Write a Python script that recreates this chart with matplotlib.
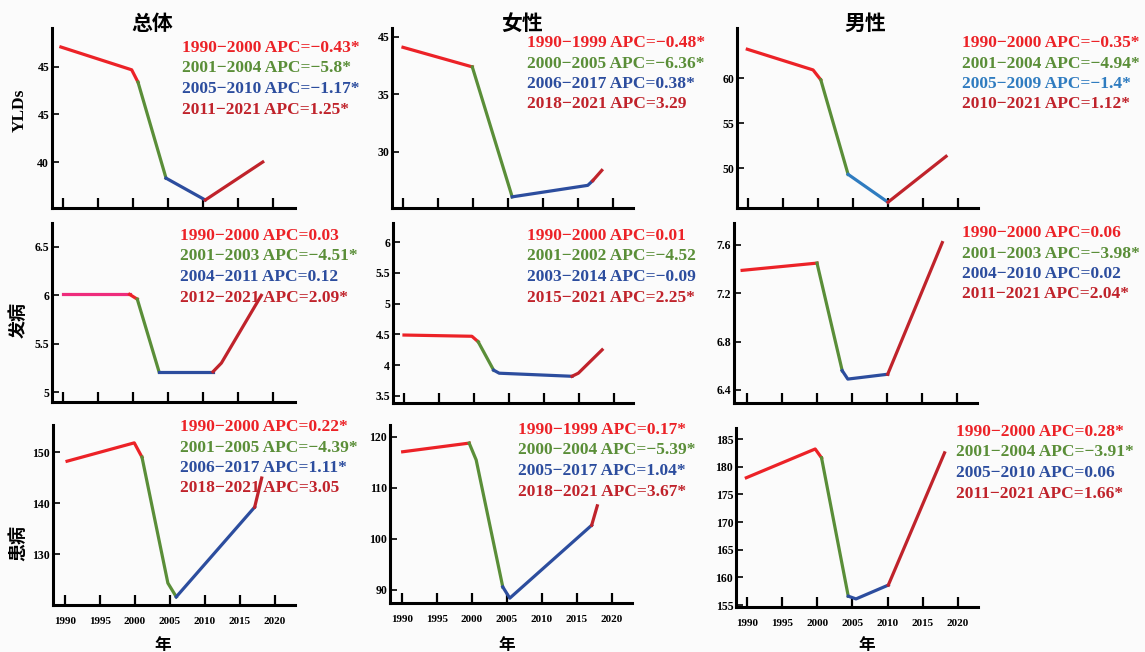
import matplotlib.pyplot as plt

plt.rcParams['font.family'] = ['Liberation Serif', 'Noto Sans CJK SC', 'DejaVu Sans']

W, H = 1145, 652

RED = '#ec2227'
GREEN = '#5a8e38'
BLUE = '#2c4d9e'
CRIMSON = '#c0232b'
PINK = '#ee2c7c'
LIGHTBLUE = '#2f7cc0'

col_titles = ['总体', '女性', '男性']
row_titles = ['YLDs', '发病', '患病']
x_ticks = [1990, 1995, 2000, 2005, 2010, 2015, 2020]

# ---- YLDs ----
yld_total_yr = [1989.7, 1999.8, 2000.7, 2004.7, 2010.3, 2018.5]
yld_total_val = [52.1, 49.7, 48.4, 38.3, 36.0, 40.0]
yld_total_cut = [0, 2, 3, 4, 5]
yld_total_col = [RED, GREEN, BLUE, CRIMSON]
yld_total_apc = ['1990−2000 APC=−0.43*', '2001−2004 APC=−5.8*',
                 '2005−2010 APC=−1.17*', '2011−2021 APC=1.25*']
yld_total_ticks = [50, 45, 40]
yld_total_tlab = ['45', '45', '40']

yld_female_yr = [1990.0, 1999.9, 2005.6, 2016.4, 2017.1, 2018.4]
yld_female_val = [39.1, 37.4, 26.1, 27.1, 27.5, 28.4]
yld_female_cut = [0, 1, 2, 4, 5]
yld_female_col = [RED, GREEN, BLUE, CRIMSON]
yld_female_apc = ['1990−1999 APC=−0.48*', '2000−2005 APC=−6.36*',
                  '2006−2017 APC=0.38*', '2018−2021 APC=3.29']
yld_female_ticks = [40, 35, 30]
yld_female_tlab = ['45', '35', '30']

yld_male_yr = [1989.9, 1999.3, 2000.4, 2004.3, 2010.0, 2018.3]
yld_male_val = [63.2, 60.9, 59.8, 49.3, 46.2, 51.3]
yld_male_cut = [0, 2, 3, 4, 5]
yld_male_col = [RED, GREEN, LIGHTBLUE, CRIMSON]
yld_male_apc = ['1990−2000 APC=−0.35*', '2001−2004 APC=−4.94*',
                '2005−2009 APC=−1.4*', '2010−2021 APC=1.12*']
yld_male_ticks = [60, 55, 50]
yld_male_tlab = ['60', '55', '50']

# ---- 发病 ----
inc_total_yr = [1990.0, 1999.5, 2000.6, 2003.7, 2011.4, 2012.6, 2018.3]
inc_total_val = [6.01, 6.01, 5.96, 5.21, 5.21, 5.30, 6.0]
inc_total_cut = [0, 1, 2, 3, 4, 6]
inc_total_col = [PINK, RED, GREEN, BLUE, CRIMSON]
inc_total_apc = ['1990−2000 APC=0.03', '2001−2003 APC=−4.51*',
                 '2004−2011 APC=0.12', '2012−2021 APC=2.09*']
inc_total_ticks = [6.5, 6, 5.5, 5]
inc_total_tlab = ['6.5', '6', '5.5', '5']

inc_female_yr = [1990.0, 1999.7, 2000.6, 2002.8, 2003.6, 2014.0, 2014.9, 2018.3]
inc_female_val = [4.49, 4.47, 4.38, 3.92, 3.87, 3.82, 3.87, 4.25]
inc_female_cut = [0, 2, 3, 5, 7]
inc_female_col = [RED, GREEN, BLUE, CRIMSON]
inc_female_apc = ['1990−2000 APC=0.01', '2001−2002 APC=−4.52',
                  '2003−2014 APC=−0.09', '2015−2021 APC=2.25*']
inc_female_ticks = [6, 5.5, 5, 4.5, 4, 3.5]
inc_female_tlab = ['6', '5.5', '5', '4.5', '4', '3.5']

inc_male_yr = [1989.3, 2000.0, 2003.6, 2004.4, 2010.1, 2017.9]
inc_male_val = [7.39, 7.45, 6.56, 6.49, 6.53, 7.62]
inc_male_cut = [0, 1, 2, 4, 5]
inc_male_col = [RED, GREEN, BLUE, CRIMSON]
inc_male_apc = ['1990−2000 APC=0.06', '2001−2003 APC=−3.98*',
                '2004−2010 APC=0.02', '2011−2021 APC=2.04*']
inc_male_ticks = [7.6, 7.2, 6.8, 6.4]
inc_male_tlab = ['7.6', '7.2', '6.8', '6.4']

# ---- 患病 ----
prev_total_yr = [1990.3, 1999.9, 2001.0, 2004.7, 2005.9, 2017.1, 2018.1]
prev_total_val = [148.2, 151.8, 149.0, 124.3, 121.6, 139.2, 144.9]
prev_total_cut = [0, 2, 4, 5, 6]
prev_total_col = [RED, GREEN, BLUE, CRIMSON]
prev_total_apc = ['1990−2000 APC=0.22*', '2001−2005 APC=−4.39*',
                  '2006−2017 APC=1.11*', '2018−2021 APC=3.05']
prev_total_ticks = [150, 140, 130]
prev_total_tlab = ['150', '140', '130']

prev_female_yr = [1990.1, 1999.6, 2000.6, 2004.4, 2005.4, 2017.1, 2017.9]
prev_female_val = [117.1, 118.8, 115.5, 90.6, 88.4, 102.7, 106.5]
prev_female_cut = [0, 1, 3, 5, 6]
prev_female_col = [RED, GREEN, BLUE, CRIMSON]
prev_female_apc = ['1990−1999 APC=0.17*', '2000−2004 APC=−5.39*',
                   '2005−2017 APC=1.04*', '2018−2021 APC=3.67*']
prev_female_ticks = [120, 110, 100, 90]
prev_female_tlab = ['120', '110', '100', '90']

prev_male_yr = [1989.9, 1999.7, 2000.6, 2004.4, 2005.5, 2010.1, 2018.1]
prev_male_val = [178.0, 183.2, 181.6, 156.6, 156.1, 158.6, 182.5]
prev_male_cut = [0, 2, 3, 5, 6]
prev_male_col = [RED, GREEN, BLUE, CRIMSON]
prev_male_apc = ['1990−2000 APC=0.28*', '2001−2004 APC=−3.91*',
                 '2005−2010 APC=0.06', '2011−2021 APC=1.66*']
prev_male_ticks = [185, 180, 175, 170, 165, 160, 155]
prev_male_tlab = ['185', '180', '175', '170', '165', '160', '155']

fig = plt.figure(figsize=(W / 100, H / 100), dpi=100)
fig.patch.set_facecolor('#fbfbfb')


def panel(rect, xlim, ylim, years, vals, cuts, colors, yticks, ylabels,
          apc, text_xy, show_x):
    l, r, t, b = rect
    ax = fig.add_axes([l / W, 1 - b / H, (r - l) / W, (b - t) / H])
    ax.patch.set_alpha(0)
    for i0, i1, c in zip(cuts[:-1], cuts[1:], colors):
        ax.plot(years[i0:i1 + 1], vals[i0:i1 + 1], color=c, lw=2.3,
                solid_joinstyle='round')
    ax.set_xlim(*xlim)
    ax.set_ylim(*ylim)
    for s in ['top', 'right']:
        ax.spines[s].set_visible(False)
    for s in ['left', 'bottom']:
        ax.spines[s].set_linewidth(2.2)
    ax.set_xticks(x_ticks)
    ax.tick_params(axis='x', direction='in', length=7, width=1.6, pad=9)
    if show_x:
        ax.set_xticklabels([str(v) for v in x_ticks], fontsize=8,
                           fontweight='bold')
    else:
        ax.set_xticklabels([])
    ax.set_yticks(yticks)
    ax.set_yticklabels(ylabels, fontsize=8.5, fontweight='bold')
    ax.tick_params(axis='y', direction='in', length=5, width=1.2, pad=2)
    tx, ty = text_xy
    for k, (s, c) in enumerate(zip(apc, colors[-4:])):
        fig.text(tx / W, 1 - (ty + k * 20.5) / H, s, color=c, fontsize=12.5,
                 fontweight='bold', ha='left', va='center')
    return ax


# row 1: YLDs
panel((52, 295, 28, 208), (1988.43, 2023.1), (35.16, 54.1),
      yld_total_yr, yld_total_val, yld_total_cut, yld_total_col,
      yld_total_ticks, yld_total_tlab, yld_total_apc, (182, 48), False)
panel((392, 633, 28, 208), (1988.43, 2022.86), (25.13, 40.78),
      yld_female_yr, yld_female_val, yld_female_cut, yld_female_col,
      yld_female_ticks, yld_female_tlab, yld_female_apc, (527, 43), False)
panel((737, 978, 28, 208), (1988.43, 2022.86), (45.56, 65.56),
      yld_male_yr, yld_male_val, yld_male_cut, yld_male_col,
      yld_male_ticks, yld_male_tlab, yld_male_apc, (962, 43), False)

# row 2: 发病
panel((52, 295, 223, 402), (1988.43, 2023.1), (4.897, 6.748),
      inc_total_yr, inc_total_val, inc_total_cut, inc_total_col,
      inc_total_ticks, inc_total_tlab, inc_total_apc, (180, 236), False)
panel((393, 633, 223, 403), (1988.43, 2022.71), (3.386, 6.31),
      inc_female_yr, inc_female_val, inc_female_cut, inc_female_col,
      inc_female_ticks, inc_female_tlab, inc_female_apc, (527, 236), False)
panel((734, 977, 223, 403), (1988.14, 2022.86), (6.292, 7.782),
      inc_male_yr, inc_male_val, inc_male_cut, inc_male_col,
      inc_male_ticks, inc_male_tlab, inc_male_apc, (962, 233), False)

# row 3: 患病
panel((53, 295, 425, 605), (1988.29, 2022.86), (120.0, 155.3),
      prev_total_yr, prev_total_val, prev_total_cut, prev_total_col,
      prev_total_ticks, prev_total_tlab, prev_total_apc, (180, 427), True)
panel((390, 632, 425, 603), (1988.29, 2022.86), (87.45, 122.35),
      prev_female_yr, prev_female_val, prev_female_cut, prev_female_col,
      prev_female_ticks, prev_female_tlab, prev_female_apc, (518, 430), True)
panel((736, 978, 428, 607), (1988.43, 2022.86), (154.64, 186.99),
      prev_male_yr, prev_male_val, prev_male_cut, prev_male_col,
      prev_male_ticks, prev_male_tlab, prev_male_apc, (956, 432), True)

cjk = ['Noto Sans CJK SC', 'DejaVu Sans']
for x, s in zip([152, 522, 865], col_titles):
    fig.text(x / W, 1 - 23 / H, s, fontsize=15, fontweight='bold',
             family=cjk, ha='center', va='center')

fig.text(20 / W, 1 - 110 / H, row_titles[0], fontsize=12.5, fontweight='bold',
         rotation=90, ha='center', va='center')
for y, s in zip([320, 543], row_titles[1:]):
    fig.text(18 / W, 1 - y / H, s, fontsize=13, fontweight='bold',
             family=cjk, rotation=90, ha='center', va='center')

for x in [163, 507, 867]:
    fig.text(x / W, 1 - 645 / H, '年', fontsize=12, fontweight='bold',
             family=cjk, ha='center', va='center')

fig.savefig('out.png', dpi=100, facecolor=fig.get_facecolor())
